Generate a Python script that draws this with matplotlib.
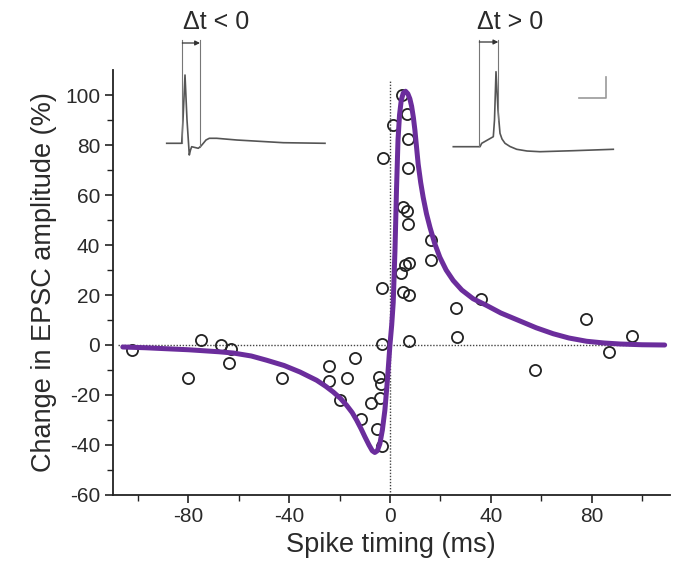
import matplotlib
matplotlib.use("Agg")
import matplotlib.pyplot as plt
import numpy as np

plt.rcParams['font.family'] = ['Liberation Sans', 'DejaVu Sans']

# ---- data: scatter points (spike timing ms, change in EPSC %) ----
pts_x = [-102.5, -80, -75, -67, -63, -64, -43, -24, -24, -17, -14, -20, -11.5,
         -7.5, -4, -4.2, -3.6, -5.3, -3.3, -3.3, -2.6, -3.2,
         4.6, 6.6, 1.3, 7.3, 7.3, 5.3, 6.6, 7, 16.3, 16.3, 7.7, 6, 4.2, 5.3,
         7.7, 26.2, 36, 26.5, 7.5, 77.6, 96.2, 86.9, 57.5]
pts_y = [-2, -13, 2, 0, -1.5, -7, -13, -8.5, -14.5, -13, -5, -22, -29.5,
         -23, -21, -12.8, -15.5, -33.5, -40.5, 0.5, 75, 23,
         100, 92.4, 88, 82.4, 70.8, 55.4, 53.5, 48.4, 42, 34, 32.7, 32.2, 29, 21.4,
         20, 14.7, 18.5, 3.4, 1.8, 10.5, 3.8, -2.8, -9.9]

# ---- fitted curve ----
fit_x = [-106, -97, -88.6, -80, -75.4, -68, -62.2, -55, -48.9, -42, -35.7,
         -29.1, -25.5, -22.5, -19.7, -17.2, -15, -13.2, -11.5, -9.9, -8.3, -7,
         -6, -5, -4, -3, -2, -1, 0, 0.7, 1.3, 2, 2.6, 3.2, 3.8, 4.5, 5.3, 6.2,
         7.1, 7.9, 8.6, 9.3, 9.9, 11.2, 12.2, 13.2, 14.5, 15.9, 17.8, 19.8,
         22.3, 25.1, 28.5, 33, 38.4, 44, 51.6, 58, 64.8, 71, 78, 85, 91.3, 100, 109]
fit_y = [-0.8, -1.1, -1.5, -1.9, -2.2, -2.7, -3.2, -4.4, -6.1, -8.2, -10.8,
         -14.1, -16.5, -18.8, -21.3, -24.1, -27, -30.1, -33.4, -36.8, -40, -42.3,
         -43, -42.3, -39.5, -34, -26, -14, 0, 8, 17, 38, 62, 82, 92, 98, 100.8, 101.5,
         100.5, 98.5, 95.5, 91, 86, 72.4, 65, 59, 52.5, 47, 40.5, 35.1,
         30, 25.8, 22, 18.5, 15.8, 12.8, 9.6, 6.9, 4.5, 2.8, 1.5, 0.8, 0.4, 0.1, 0]

# ---- inset traces (local time units, local voltage units) ----
pre_t = [6.7, 21.7, 23, 25, 27, 29.3, 30.5, 31.7, 35, 38.3, 41, 43.3, 46, 49.3,
         56.7, 76.7, 123.3, 165]
pre_v = [16.7, 16.7, 40, 85, 40, 5, 10, 13.3, 12.5, 11.7, 14, 16.7, 20, 21.7,
         21.7, 20, 17.3, 16.7]
post_t = [8.3, 35, 36.7, 48.3, 49.5, 51, 53, 55, 57, 60, 65, 71.7, 82, 95,
          128.3, 168.3]
post_v = [13.3, 13.3, 16.7, 23.3, 40, 88.3, 50, 26.7, 21, 16.7, 13.5, 10.7, 9,
          8.3, 9.3, 10.7]

xticks = [-80, -40, 0, 40, 80]
yticks = [-60, -40, -20, 0, 20, 40, 60, 80, 100]

W, H = 684, 575
fig = plt.figure(figsize=(W / 100, H / 100), dpi=100)
ax = fig.add_axes([112.7 / W, (H - 495) / H, 557 / W, 425 / H])

purple = '#6b2d9c'
txt = '#2a2a2a'

ax.plot([-108, 108], [0, 0], color='#444444', lw=1.0, ls=(0, (1, 1.2)), zorder=1)
ax.plot([0, 0], [-60, 106], color='#444444', lw=1.0, ls=(0, (1, 1.2)), zorder=1)

ax.plot(pts_x, pts_y, 'o', ms=8, mfc='none', mec='#222222', mew=1.3, zorder=2)
ax.plot(fit_x, fit_y, color=purple, lw=3.6, solid_capstyle='round',
        solid_joinstyle='round', zorder=3)

ax.set_xlim(-110, 111)
ax.set_ylim(-60, 110)
ax.set_xticks(xticks)
ax.set_xticks([-100, -60, -20, 20, 60, 100], minor=True)
ax.set_yticks(yticks)
ax.set_yticks(np.arange(-50, 110, 20), minor=True)
ax.set_yticklabels([str(v) for v in yticks])
ax.set_xticklabels([str(v) for v in xticks])

for s in ['top', 'right']:
    ax.spines[s].set_visible(False)
for s in ['left', 'bottom']:
    ax.spines[s].set_linewidth(1.3)
    ax.spines[s].set_color('#222222')

ax.tick_params(axis='both', which='major', direction='out', length=6, width=1.2,
               labelsize=15, labelcolor=txt, color='#222222', pad=3)
ax.tick_params(axis='both', which='minor', direction='out', length=4, width=1.0,
               color='#222222')

ax.set_xlabel('Spike timing (ms)', fontsize=19.5, color=txt, labelpad=4)
ax.set_ylabel('Change in EPSC amplitude (%)', fontsize=19.5, color=txt, labelpad=6)

trace_c = '#555555'

# left inset (dt < 0)
a1 = fig.add_axes([160 / W, (H - 160) / H, 170 / W, 125 / H])
a1.set_xlim(0, 170)
a1.set_ylim(0, 125)
a1.axis('off')
a1.plot(pre_t, pre_v, color=trace_c, lw=1.2)
a1.plot([22.3, 22.3], [17, 120], color='#777777', lw=0.8)
a1.plot([40, 40], [13, 120], color='#777777', lw=0.8)
a1.annotate('', xy=(40, 117), xytext=(22.3, 117),
            arrowprops=dict(arrowstyle='-|>', color='#333333', lw=0.9,
                            mutation_scale=7, shrinkA=0, shrinkB=0))
a1.text(56, 138, '\u0394t < 0', ha='center', va='center', fontsize=18,
        color=txt, clip_on=False)

# right inset (dt > 0)
a2 = fig.add_axes([445 / W, (H - 160) / H, 180 / W, 125 / H])
a2.set_xlim(0, 180)
a2.set_ylim(0, 125)
a2.axis('off')
a2.plot(post_t, post_v, color=trace_c, lw=1.2)
a2.plot([34.3, 34.3], [14, 120], color='#777777', lw=0.8)
a2.plot([53.3, 53.3], [40, 120], color='#777777', lw=0.8)
a2.annotate('', xy=(53.3, 118), xytext=(34.3, 118),
            arrowprops=dict(arrowstyle='-|>', color='#333333', lw=0.9,
                            mutation_scale=7, shrinkA=0, shrinkB=0))
a2.text(65, 138, '\u0394t > 0', ha='center', va='center', fontsize=18,
        color=txt, clip_on=False)
a2.plot([134.3, 160.7, 160.7], [61.7, 61.7, 83.3], color='#999999', lw=1.2)

fig.savefig('out.png', dpi=100)
